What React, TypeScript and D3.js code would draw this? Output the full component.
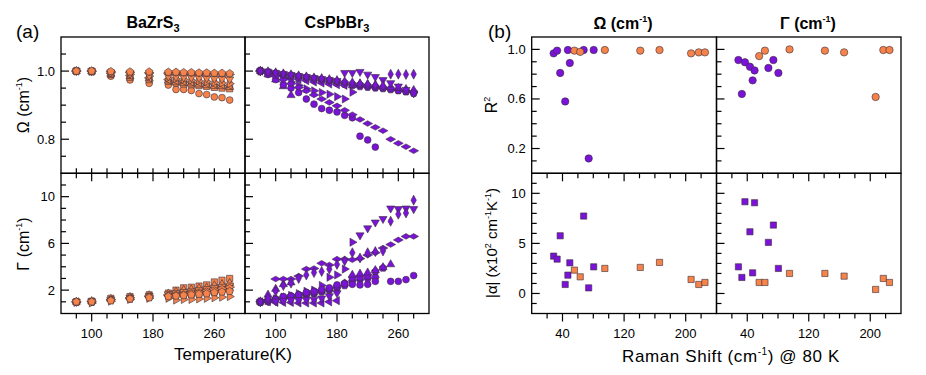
import React from "react";
import * as d3 from "d3";

// ---------- data: panel (a), temperature dependence (normalised Ω, Γ in cm-1) ----------
const tempBZS = [80, 100, 125, 150, 175, 200, 210, 220, 230, 240, 250, 260, 270, 280];
const tempCPB = [80, 90, 100, 110, 120, 130, 140, 150, 160, 170, 180, 190, 200, 210, 220, 230, 240, 250, 260, 270, 280];

// BaZrS3 modes
const bzsCircleW = [1.0, 0.998, 0.985, 0.974, 0.964, 0.959, 0.946, 0.946, 0.943, 0.934, 0.931, 0.924, 0.922, 0.915];
const bzsCircleG = [1.0, 1.0, 1.15, 1.25, 1.4, 1.45, 1.5, 1.55, 1.55, 1.6, 1.7, 1.75, 1.9, 2.0];
const bzsSquareW = [1.0, 0.999, 0.99, 0.982, 0.975, 0.97, 0.965, 0.962, 0.96, 0.957, 0.955, 0.952, 0.95, 0.948];
const bzsSquareG = [1.0, 1.05, 1.3, 1.45, 1.6, 1.75, 2.0, 2.2, 2.25, 2.35, 2.45, 2.7, 2.85, 3.0];
const bzsTriUpW = [1.0, 0.999, 0.992, 0.985, 0.978, 0.972, 0.968, 0.965, 0.963, 0.96, 0.958, 0.956, 0.955, 0.953];
const bzsTriUpG = [1.0, 1.05, 1.25, 1.4, 1.55, 1.7, 1.85, 2.0, 2.05, 2.15, 2.2, 2.4, 2.5, 2.6];
const bzsTriLeftW = [1.0, 0.999, 0.993, 0.987, 0.98, 0.975, 0.972, 0.97, 0.968, 0.966, 0.964, 0.962, 0.96, 0.958];
const bzsTriLeftG = [1.0, 1.0, 1.15, 1.3, 1.45, 1.55, 1.6, 1.65, 1.7, 1.75, 1.8, 1.9, 2.0, 2.1];
const bzsTriDownW = [1.0, 1.0, 0.996, 0.992, 0.987, 0.985, 0.983, 0.982, 0.981, 0.98, 0.979, 0.978, 0.977, 0.976];
const bzsTriDownG = [1.0, 1.05, 1.2, 1.35, 1.5, 1.65, 1.75, 1.85, 1.9, 2.0, 2.1, 2.2, 2.3, 2.4];
const bzsDiamondW = [1.0, 1.0, 0.998, 0.996, 0.995, 0.994, 0.993, 0.993, 0.992, 0.992, 0.991, 0.991, 0.99, 0.99];
const bzsDiamondG = [1.0, 1.05, 1.2, 1.35, 1.5, 1.6, 1.65, 1.7, 1.8, 1.85, 1.95, 2.05, 2.15, 2.25];
const bzsPentaW = [1.0, 1.0, 0.999, 0.998, 0.998, 0.997, 0.997, 0.996, 0.996, 0.995, 0.995, 0.994, 0.994, 0.993];
const bzsPentaG = [1.0, 1.0, 1.1, 1.25, 1.35, 1.45, 1.5, 1.55, 1.6, 1.65, 1.7, 1.8, 1.85, 1.9];
const bzsTriRightW = [1.0, 0.999, 0.995, 0.99, 0.985, 0.98, 0.977, 0.975, 0.973, 0.971, 0.969, 0.967, 0.965, 0.963];
const bzsTriRightG = [0.95, 0.9, 1.05, 1.2, 1.3, 1.3, 1.15, 1.2, 1.2, 1.25, 1.3, 1.35, 1.4, 1.45];

// CsPbBr3 modes (null = not resolved at that temperature)
const N = null;
const cpbCircleW = [1.0, 0.99, 0.975, 0.96, 0.95, 0.937, 0.918, 0.903, 0.89, 0.885, 0.88, 0.87, 0.863, 0.809, 0.798, 0.777, N, N, N, N, N];
const cpbCircleG = [1.0, 1.05, 1.2, 1.45, 1.5, 1.6, 1.8, 1.9, 2.05, 2.2, 2.45, 2.55, 2.5, 2.45, 2.5, 2.75, N, 2.75, 2.75, 2.9, 3.25];
const cpbDiaWideW = [1.0, 0.995, 0.985, 0.975, 0.963, 0.952, 0.942, 0.93, 0.918, 0.908, 0.898, 0.885, 0.872, 0.858, 0.846, 0.835, 0.825, 0.8, 0.788, 0.778, 0.766];
const cpbDiaWideG = [N, N, 2.95, 2.95, 2.95, 3.2, 3.8, 3.85, 4.3, 4.15, 4.65, 4.65, 4.6, 4.7, 5.0, 5.2, 5.6, 5.9, 6.3, 6.6, 6.6];
const cpbTriRightW = [1.0, 0.995, 0.988, 0.978, 0.968, 0.958, 0.948, 0.942, 0.937, 0.932, 0.925, 0.918, 0.938, N, N, N, N, N, N, N, N];
const cpbTriRightG = [1.0, 1.1, 1.25, 1.4, 1.55, 1.7, 1.9, 2.0, 2.4, 3.1, 3.3, 3.8, 6.1, N, N, N, N, N, N, N, N];
const cpbTriUpW = [1.0, 0.99, 0.975, 0.955, 0.929, N, N, N, N, N, N, N, 0.958, 0.962, 0.96, 0.958, 0.955, 0.952, 0.95, 0.947, 0.944];
const cpbTriUpG = [1.0, 1.6, 2.1, 2.5, 2.65, N, N, N, N, N, N, N, 3.3, 3.4, 3.5, 3.7, 3.95, 4.2, N, N, N];
const cpbTriDownW = [1.0, 0.998, 0.995, 0.992, 0.989, 0.986, 0.983, 0.98, 0.977, 0.974, 0.971, 0.995, 0.995, 0.998, 0.99, 0.983, 0.974, 0.965, 0.955, 0.945, 0.935];
const cpbTriDownG = [1.0, 1.05, 1.05, 1.1, 1.15, 1.15, 1.2, 1.2, 1.3, 1.5, 1.75, N, N, 6.7, 7.3, 7.8, 8.1, 9.0, 8.95, 9.0, 8.95];
const cpbDiaThinW = [1.0, 0.998, 0.995, 0.992, 0.989, 0.986, 0.983, 0.98, 0.978, 0.975, 0.972, 0.969, 0.966, 0.963, 0.961, 0.959, 0.957, 0.991, 0.991, 0.99, 0.991];
const cpbDiaThinG = [1.0, 1.3, 1.9, 2.4, 2.6, 3.0, 3.3, 3.5, 3.6, 3.8, 4.2, 4.5, 5.2, 4.75, 5.2, 5.3, 5.35, 7.9, 8.5, 8.6, 9.7];
const cpbPentaW = [1.0, 0.997, 0.994, 0.991, 0.988, 0.985, 0.982, 0.979, 0.976, 0.973, 0.97, 0.966, 0.962, 0.96, 0.957, 0.954, 0.951, 0.948, 0.944, 0.94, 0.935];
const cpbPentaG = [1.0, 1.1, 1.25, 1.4, 1.5, 1.6, 1.7, 1.8, 1.95, 2.1, 2.3, 2.6, 3.05, 3.1, 3.2, 3.6, 3.9, N, N, N, N];
const cpbHexW = [1.0, 0.996, 0.992, 0.988, 0.984, 0.98, 0.977, 0.974, 0.971, 0.968, 0.965, 0.962, 0.958, 0.955, 0.953, 0.951, 0.949, 0.946, 0.943, 0.94, 0.937];
const cpbHexG = [1.0, 1.1, 1.2, 1.3, 1.4, 1.5, 1.6, 1.7, 1.85, 2.0, 2.2, 2.4, 2.8, 2.9, 3.0, 3.1, N, N, N, N, N];
const cpbTriLeftW = [1.0, 0.995, 0.99, 0.985, 0.98, 0.976, 0.972, 0.968, 0.965, 0.962, 0.96, 0.958, N, N, N, N, N, N, N, N, N];
const cpbTriLeftG = [1.0, 1.0, 0.95, 0.95, 0.95, 0.9, 0.9, 0.9, 0.9, 1.0, 1.1, N, N, N, N, N, N, N, N, N, N];

// ---------- data: panel (b), fit quality and slope vs Raman shift at 80 K ----------
const ramanBZS = [55.5, 63, 95, 141, 166, 207, 217, 225];
const ramanCPB = [28.5, 33, 37, 43.5, 47, 49.5, 67.5, 74, 80.5];
const r2OmegaBZS = [0.99, 0.98, 0.995, 0.99, 0.995, 0.968, 0.976, 0.976];
const r2OmegaCPB = [0.968, 0.99, 0.81, 0.58, 0.995, 0.89, 0.995, 0.12, 0.995];
const alphaOmegaBZS = [2.33, 1.66, 2.5, 2.6, 3.1, 1.4, 0.9, 1.1];
const alphaOmegaCPB = [3.73, 3.43, 5.76, 0.9, 1.83, 3.06, 7.73, 0.56, 2.66];
const r2GammaBZS = [0.946, 0.99, 1.0, 0.99, 0.976, 0.616, 0.995, 0.995];
const r2GammaCPB = [0.914, 0.64, 0.896, 0.86, 0.75, 0.83, 0.85, 0.914, 0.81];
const alphaGammaBZS = [1.1, 1.1, 2.0, 2.0, 1.73, 0.4, 1.5, 1.1];
const alphaGammaCPB = [2.66, 1.6, 9.16, 6.16, 2.06, 9.06, 5.1, 6.83, 2.5];

// tick values
const tempTicks = d3.range(80, 300, 20);
const tempLabels = [100, 180, 260];
const omegaTicks = d3.range(0.75, 1.09, 0.05).map((v) => +v.toFixed(2));
const omegaLabels = [0.8, 1.0];
const gammaTicks = d3.range(1, 12, 1);
const gammaLabels = [2, 6, 10];
const ramanTicks = d3.range(20, 240, 20);
const ramanLabels = [40, 120, 200];
const r2Ticks = d3.range(0.1, 1.05, 0.1).map((v) => +v.toFixed(1));
const r2Labels = [0.2, 0.6, 1.0];
const alphaTicks = d3.range(-1, 12, 1);
const alphaLabels = [0, 5, 10];

const ORANGE = "#f5834a";
const PURPLE = "#7a12d9";
const EDGE = "#3b2f3a";
const FONT = "'Liberation Sans', Arial, Helvetica, sans-serif";

const bzsModes = [
  { shape: "circle", w: bzsCircleW, g: bzsCircleG },
  { shape: "square", w: bzsSquareW, g: bzsSquareG },
  { shape: "triUp", w: bzsTriUpW, g: bzsTriUpG },
  { shape: "triLeft", w: bzsTriLeftW, g: bzsTriLeftG },
  { shape: "triRight", w: bzsTriRightW, g: bzsTriRightG },
  { shape: "triDown", w: bzsTriDownW, g: bzsTriDownG },
  { shape: "diamondWide", w: bzsDiamondW, g: bzsDiamondG },
  { shape: "pentagon", w: bzsPentaW, g: bzsPentaG },
];
const cpbModes = [
  { shape: "hexagon", w: cpbHexW, g: cpbHexG },
  { shape: "pentagon", w: cpbPentaW, g: cpbPentaG },
  { shape: "triLeft", w: cpbTriLeftW, g: cpbTriLeftG },
  { shape: "triUp", w: cpbTriUpW, g: cpbTriUpG },
  { shape: "triRight", w: cpbTriRightW, g: cpbTriRightG },
  { shape: "circle", w: cpbCircleW, g: cpbCircleG },
  { shape: "diamondWide", w: cpbDiaWideW, g: cpbDiaWideG },
  { shape: "triDown", w: cpbTriDownW, g: cpbTriDownG },
  { shape: "diamondThin", w: cpbDiaThinW, g: cpbDiaThinG },
];

// ---------- layout ----------
const A_L = 61, A_M = 245, A_R = 429;
const B_L = 531.7, B_M = 716.5, B_R = 901;
const TOP = 37, MID = 173.3, BOT = 313.5;

const xTa1 = d3.scaleLinear().domain([60, 300]).range([A_L, A_M]);
const xTa2 = d3.scaleLinear().domain([60, 300]).range([A_M, A_R]);
const yOmega = d3.scaleLinear().domain([0.7, 1.1]).range([MID, TOP]);
const yGamma = d3.scaleLinear().domain([0, 12]).range([BOT, MID]);
const xRb1 = d3.scaleLinear().domain([0, 240]).range([B_L, B_M]);
const xRb2 = d3.scaleLinear().domain([0, 240]).range([B_M, B_R]);
const yR2 = d3.scaleLinear().domain([0, 1.1]).range([MID, TOP]);
const yAlpha = d3.scaleLinear().domain([-2, 12]).range([BOT, MID]);

function polygon(n: number, r: number, rot: number) {
  const pts = d3.range(n).map((i) => {
    const a = ((rot + (i * 360) / n) * Math.PI) / 180;
    return [r * Math.cos(a), r * Math.sin(a)];
  });
  return "M" + pts.map((p) => p[0].toFixed(2) + "," + p[1].toFixed(2)).join("L") + "Z";
}

function shapePath(shape: string) {
  switch (shape) {
    case "square": return polygon(4, 4.4, 45);
    case "triUp": return polygon(3, 4.7, -90);
    case "triDown": return polygon(3, 4.7, 90);
    case "triLeft": return polygon(3, 4.7, 180);
    case "triRight": return polygon(3, 4.7, 0);
    case "pentagon": return polygon(5, 4.0, -90);
    case "hexagon": return polygon(6, 3.9, 0);
    case "diamondWide": return "M-4.9,0L0,-2.8L4.9,0L0,2.8Z";
    case "diamondThin": return "M-2.7,0L0,-5L2.7,0L0,5Z";
    default: return "";
  }
}

function Marker({ shape, x, y, fill, r = 3.4 }: any) {
  if (shape === "circle")
    return <circle cx={x} cy={y} r={r} fill={fill} stroke={EDGE} strokeWidth={0.6} />;
  return (
    <path d={shapePath(shape)} transform={`translate(${x},${y})`} fill={fill} stroke={EDGE} strokeWidth={0.6} />
  );
}

// ticks along a vertical axis at x, pointing right (inward)
function YAxis({ x, scale, ticks, labels, showLabels }: any) {
  return (
    <g>
      {ticks.map((t: number) => {
        const major = labels.some((l: number) => Math.abs(l - t) < 1e-6);
        const y = scale(t);
        return <line key={t} x1={x} x2={x + (major ? 8 : 5)} y1={y} y2={y} stroke="#000" strokeWidth={1.2} />;
      })}
      {showLabels &&
        labels.map((l: number) => (
          <text key={"l" + l} x={x - 6} y={scale(l) + 4.5} textAnchor="end" fontSize={13} fontFamily={FONT}>
            {Number.isInteger(l) && l < 2 && scale.domain()[1] < 2 ? l.toFixed(1) : String(l)}
          </text>
        ))}
    </g>
  );
}

// ticks along a horizontal line y; dir = +1 down, -1 up
function XAxis({ y, scale, ticks, labels, dir, showLabels }: any) {
  return (
    <g>
      {ticks.map((t: number) => {
        const major = labels.includes(t);
        const x = scale(t);
        return <line key={t} x1={x} x2={x} y1={y} y2={y + dir * (major ? 8 : 5)} stroke="#000" strokeWidth={1.2} />;
      })}
      {showLabels &&
        labels.map((l: number) => (
          <text key={"l" + l} x={scale(l)} y={y + 24} textAnchor="middle" fontSize={13} fontFamily={FONT}>
            {l}
          </text>
        ))}
    </g>
  );
}

function Frame({ x0, x1, y0, y1 }: any) {
  return <rect x={x0} y={y0} width={x1 - x0} height={y1 - y0} fill="none" stroke="#000" strokeWidth={1.3} />;
}

function TempPanel({ xs, temps, modes, color, key2 }: any) {
  return (
    <g>
      {modes.map((m: any, i: number) => (
        <g key={key2 + "w" + i}>
          {m.w.map((v: number | null, j: number) =>
            v == null ? null : <Marker key={j} shape={m.shape} x={xs(temps[j])} y={yOmega(v)} fill={color} />
          )}
        </g>
      ))}
      {modes.map((m: any, i: number) => (
        <g key={key2 + "g" + i}>
          {m.g.map((v: number | null, j: number) =>
            v == null ? null : <Marker key={j} shape={m.shape} x={xs(temps[j])} y={yGamma(v)} fill={color} />
          )}
        </g>
      ))}
    </g>
  );
}

function Scatter({ xs, ys, xv, yv, color, shape }: any) {
  return (
    <g>
      {xv.map((x: number, i: number) => (
        <Marker key={i} shape={shape} x={xs(x)} y={ys(yv[i])} fill={color} r={3.7} />
      ))}
    </g>
  );
}

export default function App() {
  return (
    <svg
      width={926}
      height={375}
      style={{ position: "absolute", left: 0, top: 0, background: "#fff" }}
      fontFamily={FONT}
    >
      {/* ---------- panel (a) ---------- */}
      <text x={16} y={38} fontSize={19}>(a)</text>
      <text x={153} y={28} fontSize={16} fontWeight="bold" textAnchor="middle">
        BaZrS<tspan dy={4} fontSize={11}>3</tspan>
      </text>
      <text x={337} y={28} fontSize={16} fontWeight="bold" textAnchor="middle">
        CsPbBr<tspan dy={4} fontSize={11}>3</tspan>
      </text>

      <TempPanel xs={xTa1} temps={tempBZS} modes={bzsModes} color={ORANGE} key2="bzs" />
      <TempPanel xs={xTa2} temps={tempCPB} modes={cpbModes} color={PURPLE} key2="cpb" />

      <YAxis x={A_L} scale={yOmega} ticks={omegaTicks} labels={omegaLabels} showLabels />
      <YAxis x={A_M} scale={yOmega} ticks={omegaTicks} labels={omegaLabels} />
      <YAxis x={A_L} scale={yGamma} ticks={gammaTicks} labels={gammaLabels} showLabels />
      <YAxis x={A_M} scale={yGamma} ticks={gammaTicks} labels={gammaLabels} />
      <XAxis y={MID} scale={xTa1} ticks={tempTicks} labels={tempLabels} dir={1} />
      <XAxis y={MID} scale={xTa2} ticks={tempTicks} labels={tempLabels} dir={1} />
      <XAxis y={MID} scale={xTa1} ticks={tempTicks} labels={[]} dir={-1} />
      <XAxis y={MID} scale={xTa2} ticks={tempTicks} labels={[]} dir={-1} />
      <XAxis y={BOT} scale={xTa1} ticks={tempTicks} labels={tempLabels} dir={1} showLabels />
      <XAxis y={BOT} scale={xTa2} ticks={tempTicks} labels={tempLabels} dir={1} showLabels />
      <Frame x0={A_L} x1={A_M} y0={TOP} y1={MID} />
      <Frame x0={A_M} x1={A_R} y0={TOP} y1={MID} />
      <Frame x0={A_L} x1={A_M} y0={MID} y1={BOT} />
      <Frame x0={A_M} x1={A_R} y0={MID} y1={BOT} />

      <text transform="translate(29,105) rotate(-90)" textAnchor="middle" fontSize={16}>
        Ω (cm<tspan dy={-7} fontSize={9}>-1</tspan><tspan dy={7}>)</tspan>
      </text>
      <text transform="translate(29,244) rotate(-90)" textAnchor="middle" fontSize={16}>
        Γ (cm<tspan dy={-7} fontSize={9}>-1</tspan><tspan dy={7}>)</tspan>
      </text>
      <text x={233} y={360} textAnchor="middle" fontSize={17}>Temperature(K)</text>

      {/* ---------- panel (b) ---------- */}
      <text x={488} y={38} fontSize={19}>(b)</text>
      <text x={623} y={29} fontSize={16} fontWeight="bold" textAnchor="middle">
        Ω (cm<tspan dy={-7} fontSize={9}>-1</tspan><tspan dy={7}>)</tspan>
      </text>
      <text x={808} y={29} fontSize={16} fontWeight="bold" textAnchor="middle">
        Γ (cm<tspan dy={-7} fontSize={9}>-1</tspan><tspan dy={7}>)</tspan>
      </text>

      <Scatter xs={xRb1} ys={yR2} xv={ramanCPB} yv={r2OmegaCPB} color={PURPLE} shape="circle" />
      <Scatter xs={xRb1} ys={yR2} xv={ramanBZS} yv={r2OmegaBZS} color={ORANGE} shape="circle" />
      <Scatter xs={xRb2} ys={yR2} xv={ramanCPB} yv={r2GammaCPB} color={PURPLE} shape="circle" />
      <Scatter xs={xRb2} ys={yR2} xv={ramanBZS} yv={r2GammaBZS} color={ORANGE} shape="circle" />
      <Scatter xs={xRb1} ys={yAlpha} xv={ramanCPB} yv={alphaOmegaCPB} color={PURPLE} shape="square" />
      <Scatter xs={xRb1} ys={yAlpha} xv={ramanBZS} yv={alphaOmegaBZS} color={ORANGE} shape="square" />
      <Scatter xs={xRb2} ys={yAlpha} xv={ramanCPB} yv={alphaGammaCPB} color={PURPLE} shape="square" />
      <Scatter xs={xRb2} ys={yAlpha} xv={ramanBZS} yv={alphaGammaBZS} color={ORANGE} shape="square" />

      <YAxis x={B_L} scale={yR2} ticks={r2Ticks} labels={r2Labels} showLabels />
      <YAxis x={B_M} scale={yR2} ticks={r2Ticks} labels={r2Labels} />
      <YAxis x={B_L} scale={yAlpha} ticks={alphaTicks} labels={alphaLabels} showLabels />
      <YAxis x={B_M} scale={yAlpha} ticks={alphaTicks} labels={alphaLabels} />
      <XAxis y={MID} scale={xRb1} ticks={ramanTicks} labels={ramanLabels} dir={1} />
      <XAxis y={MID} scale={xRb2} ticks={ramanTicks} labels={ramanLabels} dir={1} />
      <XAxis y={BOT} scale={xRb1} ticks={ramanTicks} labels={ramanLabels} dir={1} showLabels />
      <XAxis y={BOT} scale={xRb2} ticks={ramanTicks} labels={ramanLabels} dir={1} showLabels />
      <Frame x0={B_L} x1={B_M} y0={TOP} y1={MID} />
      <Frame x0={B_M} x1={B_R} y0={TOP} y1={MID} />
      <Frame x0={B_L} x1={B_M} y0={MID} y1={BOT} />
      <Frame x0={B_M} x1={B_R} y0={MID} y1={BOT} />

      <text transform="translate(497,105) rotate(-90)" textAnchor="middle" fontSize={16}>
        R<tspan dy={-7} fontSize={9}>2</tspan>
      </text>
      <text transform="translate(497,243) rotate(-90)" textAnchor="middle" fontSize={15}>
        |α| (x10<tspan dy={-6} fontSize={9}>2</tspan><tspan dy={6}> cm</tspan>
        <tspan dy={-6} fontSize={9}>-1</tspan><tspan dy={6}>K</tspan>
        <tspan dy={-6} fontSize={9}>-1</tspan><tspan dy={6}>)</tspan>
      </text>
      <text x={731} y={362} textAnchor="middle" fontSize={17} letterSpacing={0.6}>
        Raman Shift (cm<tspan dy={-7} fontSize={10}>-1</tspan><tspan dy={7}>) @ 80 K</tspan>
      </text>
    </svg>
  );
}
